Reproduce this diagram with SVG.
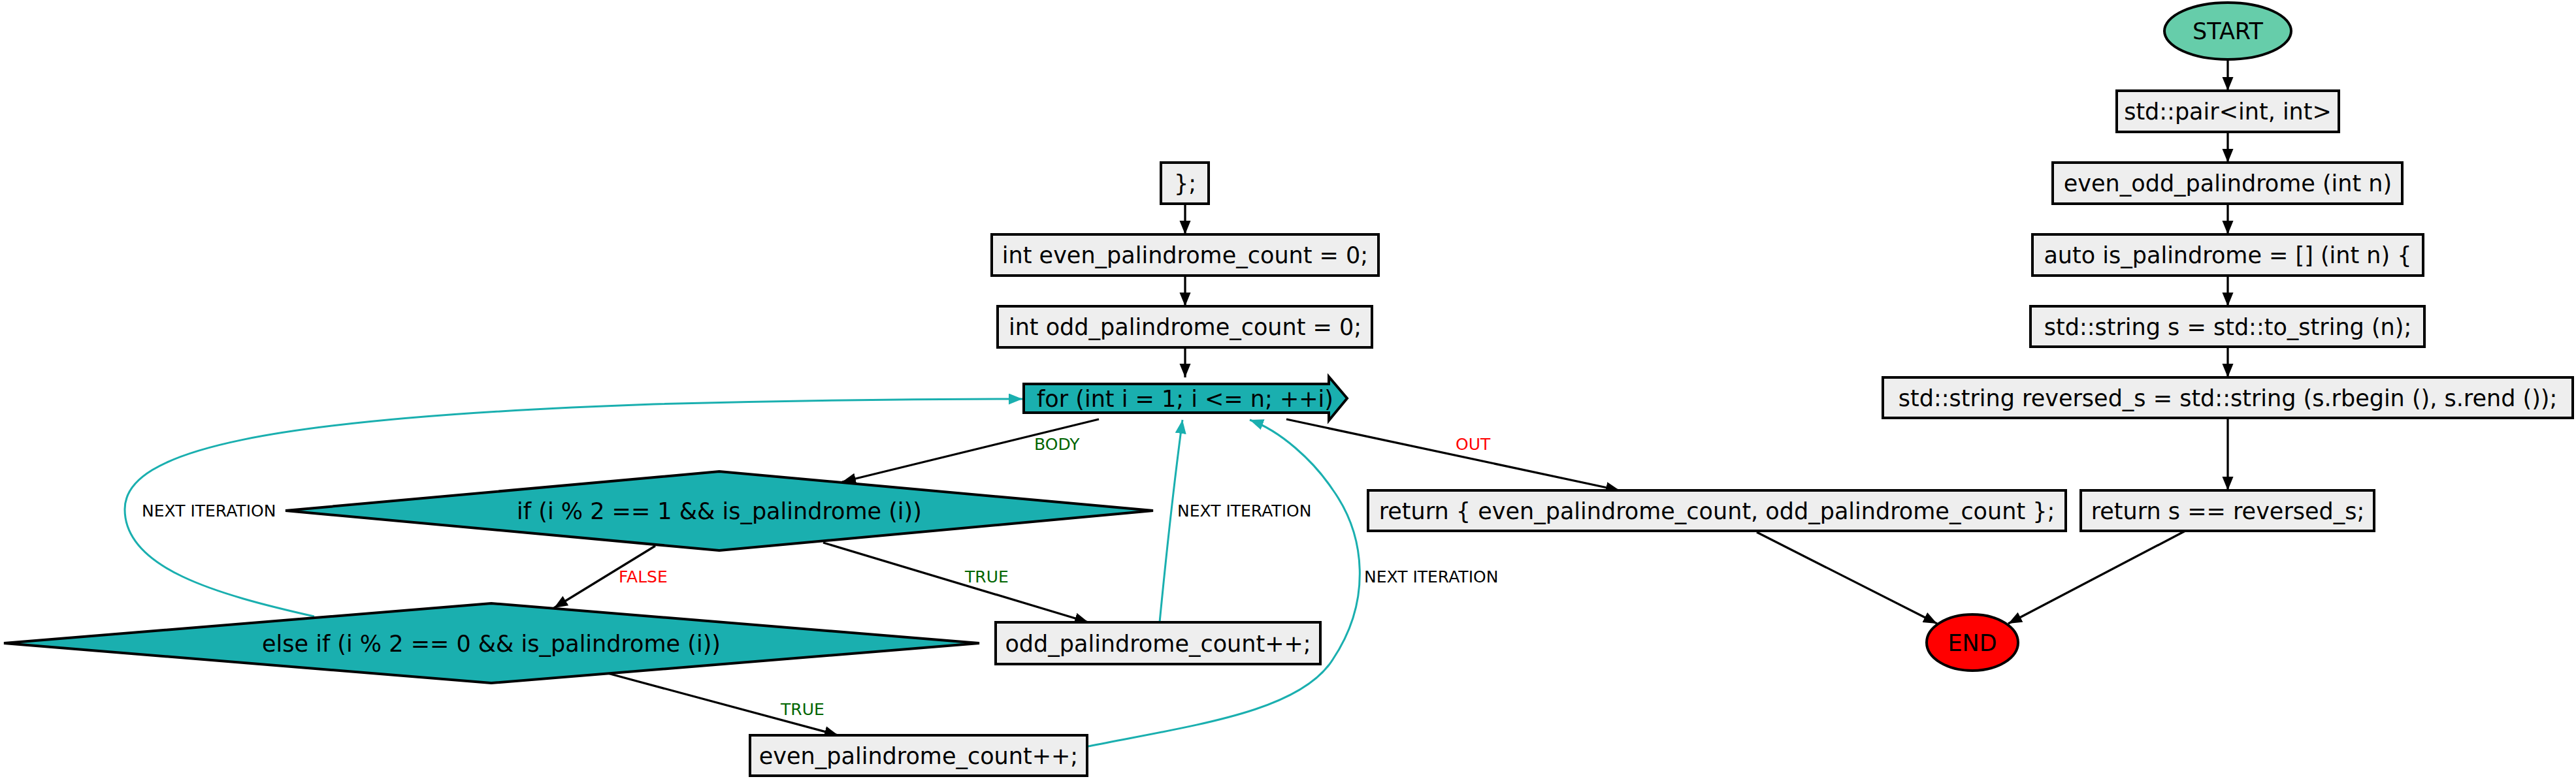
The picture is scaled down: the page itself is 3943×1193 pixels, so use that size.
<svg xmlns="http://www.w3.org/2000/svg" width="3943" height="1193" viewBox="0 0 3943 1193">
<defs>
<style>
.box{fill:#eeeeee;stroke:#000;stroke-width:4}
.dec{fill:#1aafaf;stroke:#000;stroke-width:4}
.t{font-family:"DejaVu Sans","Liberation Sans",sans-serif;font-size:35px;fill:#000;text-anchor:middle}
.lbl{font-family:"DejaVu Sans","Liberation Sans",sans-serif;font-size:25px;fill:#000}
.g{fill:#006400}
.r{fill:#ff0000}
.e{fill:none;stroke:#000;stroke-width:3.3;marker-end:url(#ah)}
.et{fill:none;stroke:#1aafaf;stroke-width:3;marker-end:url(#aht)}
</style>
<marker id="ah" markerUnits="userSpaceOnUse" markerWidth="24" markerHeight="20" refX="21" refY="8.5" orient="auto"><path d="M0,0 L21,8.5 L0,17 z" fill="#000"/></marker>
<marker id="aht" markerUnits="userSpaceOnUse" markerWidth="24" markerHeight="20" refX="21" refY="8.5" orient="auto"><path d="M0,0 L21,8.5 L0,17 z" fill="#1aafaf"/></marker>
</defs>
<rect width="3943" height="1193" fill="#fff"/>
<g id="edges">
<path class="e" d="M3410,91 L3410,139"/>
<path class="e" d="M3410,202 L3410,249"/>
<path class="e" d="M3410,312 L3410,359"/>
<path class="e" d="M3410,422 L3410,469"/>
<path class="e" d="M3410,531 L3410,578"/>
<path class="e" d="M3410,640 L3410,751"/>
<path class="e" d="M3345,813 L3074,955"/>
<path class="e" d="M2689,815 L2965,955"/>
<path class="e" d="M1814,312 L1814,359"/>
<path class="e" d="M1814,422 L1814,469"/>
<path class="e" d="M1814,532 L1814,578"/>
<path class="e" d="M1682,642 L1289,738"/>
<path class="e" d="M1969,642 L2479,751"/>
<path class="e" d="M1260,831 L1666,953"/>
<path class="e" d="M1003,836 L848,931"/>
<path class="e" d="M930,1031 L1283,1126"/>
<path class="et" d="M1775,953 C1785,850 1797,740 1810,643"/>
<path class="et" d="M1666,1143 C1830,1110 1990,1090 2040,1010 C2100,920 2090,820 2040,750 C2010,705 1960,660 1913,643"/>
<path class="et" d="M481,944 C330,910 191,870 191,780 C191,690 400,640 1000,619 C1250,612 1400,611 1565,611"/>
<text class="lbl g" x="1583" y="689">BODY</text>
<text class="lbl r" x="2228" y="689">OUT</text>
<text class="lbl" x="217" y="791">NEXT ITERATION</text>
<text class="lbl" x="1802" y="791">NEXT ITERATION</text>
<text class="lbl" x="2088" y="892">NEXT ITERATION</text>
<text class="lbl r" x="947" y="892">FALSE</text>
<text class="lbl g" x="1477" y="892">TRUE</text>
<text class="lbl g" x="1195" y="1095">TRUE</text>
</g>
<g id="n_start"><ellipse cx="3410" cy="47.5" rx="97" ry="43.5" fill="#66cdaa" stroke="#000" stroke-width="4"/><text class="t" x="3410" y="60">START</text></g>
<g id="n_pair"><rect class="box" x="3240" y="139" width="340" height="63"/><text class="t" x="3410" y="183">std::pair&lt;int, int&gt;</text></g>
<g id="n_evenodd"><rect class="box" x="3142" y="249" width="535" height="63"/><text class="t" x="3410" y="293">even_odd_palindrome (int n)</text></g>
<g id="n_auto"><rect class="box" x="3111" y="359" width="598" height="63"/><text class="t" x="3410" y="403">auto is_palindrome = [] (int n) {</text></g>
<g id="n_s"><rect class="box" x="3108" y="469" width="603" height="62"/><text class="t" x="3410" y="512.5">std::string s = std::to_string (n);</text></g>
<g id="n_rev"><rect class="box" x="2882" y="578" width="1056" height="62"/><text class="t" x="3410" y="621.5">std::string reversed_s = std::string (s.rbegin (), s.rend ());</text></g>
<g id="n_rets"><rect class="box" x="3185" y="751" width="449" height="62"/><text class="t" x="3410" y="794.5">return s == reversed_s;</text></g>
<g id="n_end"><ellipse cx="3019" cy="984" rx="70" ry="43" fill="#ff0000" stroke="#000" stroke-width="4"/><text class="t" x="3019" y="996.5">END</text></g>
<g id="n_close"><rect class="box" x="1777" y="249" width="73" height="63"/><text class="t" x="1814" y="293">};</text></g>
<g id="n_evencnt"><rect class="box" x="1518" y="359" width="592" height="63"/><text class="t" x="1814" y="403">int even_palindrome_count = 0;</text></g>
<g id="n_oddcnt"><rect class="box" x="1527" y="469" width="573" height="63"/><text class="t" x="1814" y="513">int odd_palindrome_count = 0;</text></g>
<g id="n_for"><polygon class="dec" points="1567,588 2034,588 2034,577 2062,610 2034,644 2034,632 1567,632"/><text class="t" x="1814" y="622.5">for (int i = 1; i &lt;= n; ++i)</text></g>
<g id="n_if"><polygon class="dec" points="437,782 1101,722 1765,782 1101,843"/><text class="t" x="1101" y="794.5">if (i % 2 == 1 &amp;&amp; is_palindrome (i))</text></g>
<g id="n_elseif"><polygon class="dec" points="6,985 752,924 1499,985 752,1046"/><text class="t" x="752" y="997.5">else if (i % 2 == 0 &amp;&amp; is_palindrome (i))</text></g>
<g id="n_odd"><rect class="box" x="1524" y="953" width="497" height="64"/><text class="t" x="1772.5" y="997.5">odd_palindrome_count++;</text></g>
<g id="n_even"><rect class="box" x="1148" y="1126" width="516" height="62"/><text class="t" x="1406" y="1169.5">even_palindrome_count++;</text></g>
<g id="n_ret"><rect class="box" x="2094" y="751" width="1068" height="62"/><text class="t" x="2628" y="794.5">return { even_palindrome_count, odd_palindrome_count };</text></g>
</svg>
